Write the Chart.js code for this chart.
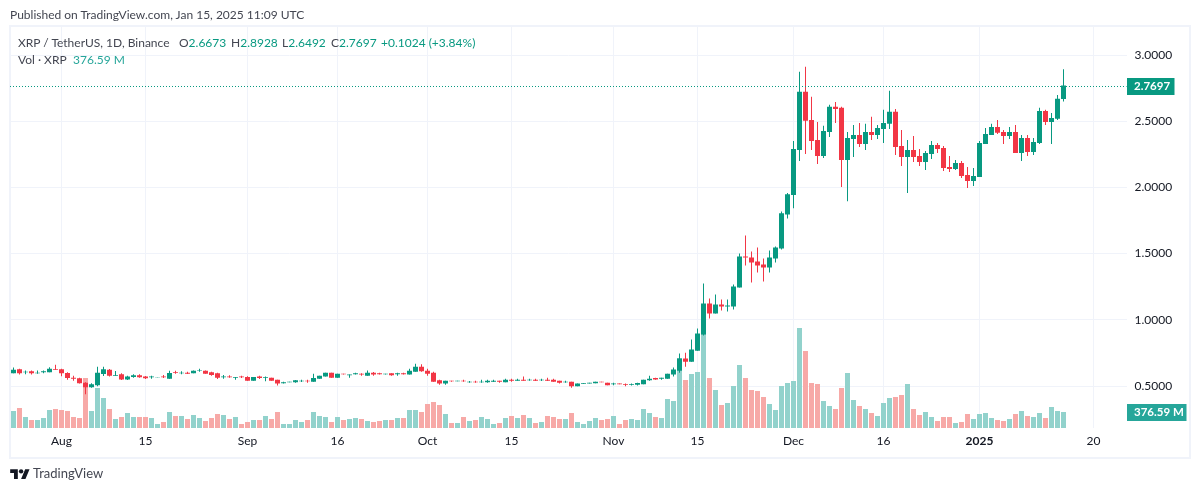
<!DOCTYPE html>
<html>
<head>
<meta charset="utf-8">
<script src="https://cdn.jsdelivr.net/npm/chart.js@4"></script>
<style>
  html, body { margin: 0; background: #fff; }
  body { width: 1200px; height: 491px; position: relative; overflow: hidden;
         font-family: Lato, sans-serif; font-size: 12px; color: #131722; }
  canvas { position: absolute; left: 0; top: 0; }
  #frame { position: absolute; left: 9px; top: 25px; width: 1178px; height: 430px; border: 2px solid #f0f3fa; }
  .t { position: absolute; white-space: nowrap; line-height: 16px; }
  .g { color: #089981; }
  .v { color: #26a69a; }
</style>
</head>
<body>
<div id="frame"></div>
<canvas id="chart" width="1200" height="491"></canvas>
<div class="t" style="left:10px;top:7px;color:#434651">Published on TradingView.com, Jan 15, 2025 11:09 UTC</div>
<div class="t" style="left:18px;top:35px;color:#434651">XRP / TetherUS, 1D, Binance</div>
<div class="t" style="left:179px;top:35px;color:#434651">O<span class="g">2.6673</span></div>
<div class="t" style="left:231px;top:35px;color:#434651">H<span class="g">2.8928</span></div>
<div class="t" style="left:282px;top:35px;color:#434651">L<span class="g">2.6492</span></div>
<div class="t" style="left:331px;top:35px;color:#434651">C<span class="g">2.7697</span></div>
<div class="t g" style="left:381px;top:35px">+0.1024 (+3.84%)</div>
<div class="t" style="left:18px;top:52px;color:#434651">Vol · XRP</div>
<div class="t v" style="left:73px;top:52px">376.59 M</div>
<svg style="position:absolute;left:10px;top:467px" width="20" height="12" viewBox="0 0 36 22" fill="#131722">
  <path d="M14 22H7V11H0V4h14v18zM28 22h-8l7.5-18h8L28 22z"/><circle cx="20" cy="8" r="4"/>
</svg>
<div class="t" style="left:33px;top:465px;font-size:13px;color:#434651">TradingView</div>
<script>
// daily slots, the last ones stay empty (right margin of the chart)
const days = [
  "07-24","07-25","07-26","07-27","07-28","07-29","07-30","07-31",
  "08-01","08-02","08-03","08-04","08-05","08-06","08-07","08-08","08-09","08-10","08-11","08-12","08-13","08-14","08-15","08-16","08-17","08-18","08-19","08-20","08-21","08-22","08-23","08-24","08-25","08-26","08-27","08-28","08-29","08-30","08-31",
  "09-01","09-02","09-03","09-04","09-05","09-06","09-07","09-08","09-09","09-10","09-11","09-12","09-13","09-14","09-15","09-16","09-17","09-18","09-19","09-20","09-21","09-22","09-23","09-24","09-25","09-26","09-27","09-28","09-29","09-30",
  "10-01","10-02","10-03","10-04","10-05","10-06","10-07","10-08","10-09","10-10","10-11","10-12","10-13","10-14","10-15","10-16","10-17","10-18","10-19","10-20","10-21","10-22","10-23","10-24","10-25","10-26","10-27","10-28","10-29","10-30","10-31",
  "11-01","11-02","11-03","11-04","11-05","11-06","11-07","11-08","11-09","11-10","11-11","11-12","11-13","11-14","11-15","11-16","11-17","11-18","11-19","11-20","11-21","11-22","11-23","11-24","11-25","11-26","11-27","11-28","11-29","11-30",
  "12-01","12-02","12-03","12-04","12-05","12-06","12-07","12-08","12-09","12-10","12-11","12-12","12-13","12-14","12-15","12-16","12-17","12-18","12-19","12-20","12-21","12-22","12-23","12-24","12-25","12-26","12-27","12-28","12-29","12-30","12-31",
  "01-01","01-02","01-03","01-04","01-05","01-06","01-07","01-08","01-09","01-10","01-11","01-12","01-13","01-14","01-15","01-16","01-17","01-18","01-19","01-20","01-21","01-22","01-23","01-24","01-25"
];

const opens = [
  .596,.626,.603,.611,.596,.603,.603,.629,.626,.598,
  .563,.558,.525,.490,.505,.591,.623,.578,.588,.550,
  .568,.581,.571,.566,.566,.571,.555,.603,.596,.601,
  .596,.613,.616,.603,.596,.566,.571,.563,.571,.568,
  .540,.571,.560,.563,.548,.520,.528,.528,.535,.540,
  .533,.555,.571,.601,.563,.593,.581,.588,.593,.578,
  .601,.596,.588,.596,.588,.596,.586,.608,.646,.616,
  .601,.543,.518,.540,.535,.540,.528,.533,.528,.528,
  .533,.540,.528,.548,.540,.548,.543,.548,.543,.548,
  .548,.540,.528,.533,.498,.515,.518,.520,.533,.525,
  .513,.518,.515,.510,.510,.513,.543,.560,.555,.555,
  .586,.616,.707,.684,.767,.888,1.123,1.047,1.115,1.100,
  1.100,1.244,1.479,1.471,1.441,1.418,1.395,1.463,1.539,1.796,
  1.942,2.283,2.722,2.510,2.359,2.237,2.419,2.609,2.601,2.207,
  2.366,2.396,2.328,2.419,2.396,2.442,2.480,2.571,2.313,2.230,
  2.283,2.237,2.192,2.253,2.321,2.298,2.154,2.139,2.184,2.093,
  2.048,2.078,2.328,2.396,2.457,2.419,2.389,2.419,2.260,2.374,
  2.268,2.336,2.578,2.495,2.518,2.6673
];
const highs = [
  .639,.631,.618,.618,.618,.618,.641,.661,.631,.603,
  .578,.563,.528,.520,.646,.646,.629,.613,.596,.578,
  .588,.588,.576,.578,.568,.583,.616,.616,.611,.608,
  .618,.631,.618,.608,.601,.583,.581,.568,.578,.573,
  .568,.578,.571,.563,.548,.533,.533,.545,.548,.548,
  .593,.578,.601,.601,.593,.593,.586,.601,.596,.618,
  .606,.601,.593,.596,.601,.601,.631,.669,.664,.631,
  .608,.548,.540,.540,.540,.548,.538,.540,.548,.548,
  .548,.540,.555,.555,.555,.571,.555,.555,.555,.563,
  .555,.540,.540,.533,.518,.520,.525,.533,.533,.525,
  .525,.518,.518,.518,.525,.548,.578,.563,.563,.593,
  .639,.745,.752,.851,.934,1.274,1.161,1.191,1.153,1.153,
  1.267,1.501,1.637,1.516,1.547,1.463,1.524,1.554,1.819,1.957,
  2.351,2.874,2.912,2.684,2.495,2.465,2.624,2.646,2.609,2.419,
  2.472,2.487,2.480,2.533,2.472,2.586,2.730,2.593,2.434,2.359,
  2.389,2.290,2.275,2.351,2.336,2.313,2.237,2.207,2.199,2.154,
  2.146,2.351,2.449,2.480,2.510,2.434,2.457,2.472,2.396,2.396,
  2.374,2.601,2.586,2.563,2.699,2.8928
];
const lows = [
  .596,.586,.588,.586,.593,.596,.603,.623,.573,.548,
  .540,.518,.437,.487,.498,.576,.571,.578,.545,.545,
  .563,.563,.553,.555,.566,.560,.555,.593,.588,.591,
  .596,.608,.593,.578,.553,.555,.563,.548,.560,.540,
  .540,.553,.535,.540,.503,.518,.528,.525,.530,.525,
  .533,.555,.571,.563,.563,.586,.563,.586,.578,.578,
  .578,.586,.586,.578,.578,.586,.586,.608,.608,.578,
  .533,.510,.510,.533,.535,.533,.525,.525,.525,.525,
  .530,.525,.528,.533,.540,.540,.540,.538,.538,.538,
  .533,.518,.525,.487,.498,.515,.518,.520,.528,.505,
  .505,.513,.498,.503,.503,.513,.540,.548,.548,.555,
  .571,.601,.646,.684,.767,.881,1.009,1.047,1.070,1.062,
  1.078,1.244,1.410,1.282,1.357,1.289,1.357,1.433,1.531,1.766,
  1.843,2.199,2.253,2.283,2.177,2.222,2.381,2.487,2.003,1.896,
  2.230,2.306,2.283,2.359,2.366,2.336,2.442,2.245,2.162,1.957,
  2.192,2.162,2.131,2.215,2.260,2.124,2.116,2.131,2.071,1.995,
  2.010,2.078,2.328,2.396,2.404,2.328,2.366,2.260,2.199,2.237,
  2.245,2.328,2.472,2.328,2.510,2.6492
];
const closes = [
  .623,.596,.608,.596,.601,.611,.631,.623,.596,.560,
  .555,.520,.490,.513,.601,.626,.578,.583,.550,.571,
  .581,.566,.558,.571,.568,.566,.598,.598,.601,.593,
  .616,.618,.593,.583,.563,.571,.566,.568,.566,.540,
  .568,.560,.566,.540,.518,.528,.533,.543,.540,.535,
  .560,.578,.601,.563,.593,.588,.586,.596,.586,.601,
  .586,.588,.593,.581,.596,.588,.616,.646,.611,.593,
  .533,.518,.540,.535,.540,.535,.533,.528,.533,.540,
  .540,.533,.548,.540,.548,.540,.548,.540,.548,.540,
  .533,.525,.533,.498,.518,.520,.525,.533,.528,.505,
  .518,.513,.510,.515,.523,.548,.555,.550,.563,.593,
  .624,.707,.684,.775,.896,1.123,1.047,1.115,1.100,1.108,
  1.252,1.479,1.471,1.433,1.410,1.395,1.471,1.547,1.804,1.949,
  2.290,2.722,2.503,2.351,2.237,2.427,2.609,2.593,2.207,2.374,
  2.396,2.328,2.419,2.396,2.449,2.487,2.571,2.306,2.230,2.283,
  2.230,2.192,2.260,2.321,2.290,2.146,2.139,2.184,2.086,2.048,
  2.086,2.336,2.404,2.457,2.412,2.389,2.419,2.260,2.374,2.268,
  2.343,2.578,2.495,2.525,2.669,2.7697
];
// volume in millions of XRP
const volumes = [
  400,470,259,188,188,235,423,447,423,400,
  259,235,1175,400,940,705,447,212,259,353,
  259,259,259,235,94,141,376,282,282,212,
  306,235,165,235,329,306,212,259,94,141,
  188,188,282,212,376,94,94,188,141,188,
  376,282,259,141,259,188,212,235,212,165,
  141,165,188,188,235,235,423,423,376,564,
  611,541,329,118,118,259,165,188,259,212,
  94,118,235,282,235,306,235,118,141,282,
  259,212,212,353,141,94,165,235,188,212,
  282,94,188,212,188,447,353,259,235,682,
  635,1645,1128,1269,1316,2186,1175,893,541,588,
  987,1481,1175,893,870,729,564,423,987,1058,
  1105,2350,1810,1058,1034,635,517,447,940,1293,
  658,517,447,353,282,588,705,729,776,1034,
  447,306,376,259,165,259,259,118,141,329,
  212,329,353,235,188,165,212,329,400,282,
  259,353,235,494,400,376.59
];

const priceTicks = [0.5, 1, 1.5, 2, 2.5, 3];
const tickDays = ["08-01","08-15","09-01","09-16","10-01","10-15","11-01","11-15","12-01","12-16","01-01","01-20"];
const tickLabels = ["Aug","15","Sep","16","Oct","15","Nov","15","Dec","16","2025","20"];

const UP = "#089981", DOWN = "#f23645";
const VOL_UP = "#92d2cc", VOL_DOWN = "#f7a9a7";
const FONT = 'Lato, sans-serif';
const isUp = i => closes[i] >= opens[i];
const candleColors = opens.map((o, i) => isUp(i) ? UP : DOWN);

// last price line and the two tags on the price axis
const lastValueTags = {
  id: "lastValueTags",
  afterDraw(chart) {
    const { ctx, chartArea, scales } = chart;
    const last = closes.length - 1;
    const y = scales.y.getPixelForValue(closes[last]);
    const vy = scales.vol.getPixelForValue(volumes[last]);
    ctx.save();
    ctx.strokeStyle = UP;
    ctx.lineWidth = 1;
    ctx.setLineDash([1, 2]);
    ctx.beginPath();
    ctx.moveTo(Math.floor(chartArea.left), Math.round(y) + 0.5);
    ctx.lineTo(chartArea.right, Math.round(y) + 0.5);
    ctx.stroke();
    ctx.setLineDash([]);
    ctx.textBaseline = "middle";
    ctx.font = "bold 11.5px " + FONT;
    ctx.fillStyle = UP;
    ctx.fillRect(chartArea.right + 0.5, Math.round(y) - 8, 47.5, 17);
    ctx.fillStyle = "#fff";
    ctx.fillText(closes[last].toFixed(4), chartArea.right + 7.5, Math.round(y) + 0.5);
    ctx.fillStyle = "#26a69a";
    ctx.fillRect(chartArea.right + 0.5, Math.round(vy) - 8, 59.5, 17);
    ctx.fillStyle = "#fff";
    ctx.fillText(volumes[last].toFixed(2) + " M", chartArea.right + 7.5, Math.round(vy) + 0.5);
    ctx.restore();
  }
};

new Chart(document.getElementById("chart"), {
  type: "bar",
  data: {
    labels: days,
    datasets: [
      {
        label: "Candle body",
        data: opens.map((o, i) => [o, closes[i]]),
        backgroundColor: candleColors,
        barThickness: 5, order: 1, yAxisID: "y"
      },
      {
        label: "Wick",
        data: lows.map((l, i) => [l, highs[i]]),
        backgroundColor: candleColors,
        barThickness: 1, order: 2, yAxisID: "y"
      },
      {
        label: "Vol",
        data: volumes,
        backgroundColor: opens.map((o, i) => isUp(i) ? VOL_UP : VOL_DOWN),
        barThickness: 5, order: 3, yAxisID: "vol"
      }
    ]
  },
  options: {
    responsive: false,
    animation: false,
    layout: { padding: { left: 10.5, top: 27, right: 0, bottom: 0 } },
    datasets: { bar: { grouped: false, borderWidth: 0, borderSkipped: false, inflateAmount: 0 } },
    plugins: { legend: { display: false }, tooltip: { enabled: false } },
    scales: {
      x: {
        type: "category",
        offset: true,
        afterFit: s => { s.height = 63; },
        border: { display: false },
        grid: {
          offset: false,
          drawTicks: false,
          color: c => tickDays.includes(days[c.index]) ? "#f0f3fa" : "rgba(0,0,0,0)"
        },
        ticks: {
          autoSkip: false,
          maxRotation: 0,
          padding: 6,
          color: "#131722",
          font: c => ({ family: FONT, size: 12, weight: c.tick && c.tick.label === "2025" ? "bold" : "normal" }),
          callback: (v, i) => {
            const k = tickDays.indexOf(days[i]);
            return k < 0 ? "" : tickLabels[k];
          }
        }
      },
      y: {
        position: "right",
        min: 0.1828,
        max: 3.2117,
        afterFit: s => { s.width = 73.5; },
        afterBuildTicks: s => { s.ticks = priceTicks.map(v => ({ value: v })); },
        border: { display: false },
        grid: { drawTicks: false, color: "#f0f3fa" },
        ticks: {
          padding: 8,
          color: "#131722",
          font: { family: FONT, size: 12 },
          callback: v => v.toFixed(4)
        }
      },
      vol: { display: false, min: 0, max: 9424 }
    }
  },
  plugins: [lastValueTags]
});
</script>
</body>
</html>
